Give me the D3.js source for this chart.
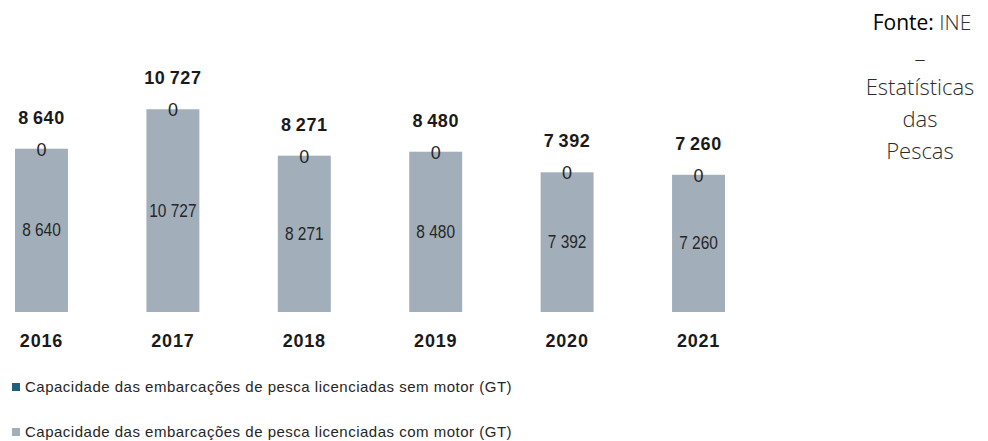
<!DOCTYPE html>
<html lang="pt">
<head>
<meta charset="utf-8">
<title>Capacidade das embarcações de pesca licenciadas</title>
<script src="https://cdn.jsdelivr.net/npm/d3@7"></script>
<style>
  body { margin: 0; background: #fff; }
  svg { display: block; }
</style>
</head>
<body>
<div id="chart"></div>
<script>
// dados (GT)
const years = ["2016", "2017", "2018", "2019", "2020", "2021"];
const comMotor = [8640, 10727, 8271, 8480, 7392, 7260];
const semMotor = [0, 0, 0, 0, 0, 0];
const legendLabels = [
  "Capacidade das embarcações de pesca licenciadas sem motor (GT)",
  "Capacidade das embarcações de pesca licenciadas com motor (GT)"
];
const sourceLines = ["–", "Estatísticas", "das", "Pescas"];

const width = 988, height = 441;
const colCom = "#a2afbb";   // com motor
const colSem = "#1f5f7e";   // sem motor

// formato pt: espaço como separador de milhares
const fmt = v => d3.format(",")(v).replace(/,/g, "\u2009");
const fmtIn = v => d3.format(",")(v).replace(/,/g, " ");

const svg = d3.select("#chart").append("svg")
  .attr("width", width).attr("height", height);

const x = d3.scaleBand().domain(years).range([15, 725])
  .paddingInner(0.597).paddingOuter(0);
const y = d3.scaleLinear().domain([0, 12000]).range([312, 85.2]);

const rows = years.map((yr, i) => ({ yr, com: comMotor[i], sem: semMotor[i], total: comMotor[i] + semMotor[i] }));

// barras com motor
svg.append("g").selectAll("rect").data(rows).join("rect")
  .attr("x", d => x(d.yr)).attr("width", x.bandwidth())
  .attr("y", d => y(d.com)).attr("height", d => y(0) - y(d.com))
  .attr("fill", colCom);

// barras sem motor (empilhadas)
svg.append("g").selectAll("rect").data(rows).join("rect")
  .attr("x", d => x(d.yr)).attr("width", x.bandwidth())
  .attr("y", d => y(d.total)).attr("height", d => y(d.com) - y(d.total))
  .attr("fill", colSem);

const cx = d => x(d.yr) + x.bandwidth() / 2;

// rótulos dentro das barras (fonte estreita)
svg.append("g").selectAll("text").data(rows).join("text")
  .attr("transform", d => `translate(${cx(d)},${(y(d.com) + y(0)) / 2 + 6}) scale(0.86,1)`)
  .attr("text-anchor", "middle")
  .style("font", "18px 'Liberation Sans', Arial, sans-serif")
  .attr("fill", "#262626")
  .text(d => fmtIn(d.com));

// rótulos "0" (sem motor)
svg.append("g").selectAll("text").data(rows).join("text")
  .attr("x", cx).attr("y", d => y(d.com + d.sem / 2) + 7)
  .attr("text-anchor", "middle")
  .style("font", "18px 'Liberation Sans', Arial, sans-serif")
  .attr("fill", "#262626")
  .text(d => fmt(d.sem));

// totais
svg.append("g").selectAll("text").data(rows).join("text")
  .attr("x", cx).attr("y", d => y(d.total) - 25)
  .attr("text-anchor", "middle")
  .style("font", "bold 18px 'Liberation Sans', Arial, sans-serif")
  .style("letter-spacing", "0.6px")
  .attr("fill", "#1a1a1a")
  .text(d => fmt(d.total));

// eixo x (anos)
const xAxis = svg.append("g").attr("transform", "translate(0,312)")
  .call(d3.axisBottom(x).tickSize(0).tickPadding(22));
xAxis.select(".domain").remove();
xAxis.selectAll("text")
  .style("font", "bold 18px 'Liberation Sans', Arial, sans-serif")
  .style("letter-spacing", "0.8px")
  .attr("fill", "#1a1a1a");

// legenda
const leg = svg.append("g").selectAll("g").data(legendLabels).join("g")
  .attr("transform", (d, i) => `translate(12,${387 + i * 45})`);
leg.append("rect").attr("x", 0).attr("y", -4).attr("width", 8).attr("height", 8)
  .attr("fill", (d, i) => i === 0 ? colSem : colCom);
leg.append("text").attr("x", 13).attr("y", 5)
  .style("font", "15px 'Liberation Sans', Arial, sans-serif")
  .style("letter-spacing", "0.5px")
  .attr("fill", "#262626")
  .text(d => d);

// fonte
const src = svg.append("g").style("font", "21px 'Open Sans', sans-serif").style("font-weight", 300)
  .attr("text-anchor", "middle");
const t0 = src.append("text").attr("x", 922).attr("y", 30);
t0.append("tspan").attr("fill", "#000").style("font-weight", 400).text("Fonte:");
t0.append("tspan").attr("fill", "#333").text(" INE");
src.selectAll("text.l").data(sourceLines).join("text").attr("class", "l")
  .attr("x", 920).attr("y", (d, i) => i === 0 ? 67 : 95 + (i - 1) * 32)
  .style("font-size", "22px")
  .attr("fill", "#2b2b2b")
  .text(d => d);
</script>
</body>
</html>
